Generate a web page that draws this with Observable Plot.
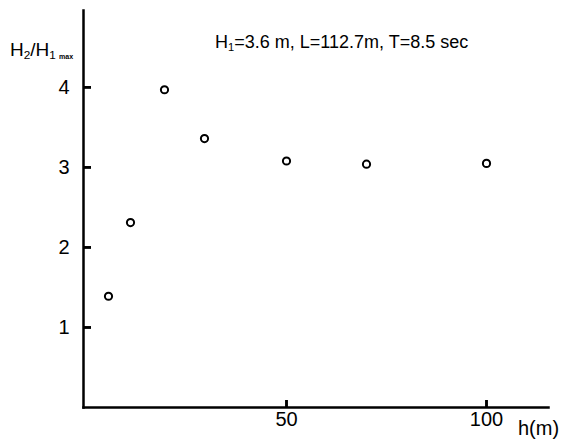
<!DOCTYPE html>
<html><head><meta charset="utf-8">
<script src="https://cdn.jsdelivr.net/npm/d3@7"></script>
<script src="https://cdn.jsdelivr.net/npm/@observablehq/plot@0.6"></script>
<style>
body{margin:0;background:#fff;}
#wrap{position:relative;width:565px;height:441px;font-family:"Liberation Sans",Arial,sans-serif;color:#000;background:#fff;}
#wrap svg{position:absolute;left:0;top:0;font-family:"Liberation Sans",Arial,sans-serif;background:transparent;}
.lbl{position:absolute;white-space:nowrap;line-height:1;}
.lbl sub{font-size:0.62em;vertical-align:-0.25em;}
.lbl .mx{font-size:0.6em;font-weight:bold;}
</style></head><body><div id="wrap"></div>
<script>
// data
const depth = [5.5, 11, 19.5, 29.5, 50, 70, 100];
const ratio = [1.39, 2.31, 3.97, 3.36, 3.08, 3.04, 3.05];
const xTicks = [50, 100];
const yTicks = [1, 2, 3, 4];
const xLabel = "h(m)";
const yLabelParts = ["H", "2", "/H", "1", "max"];
const noteParts = ["H", "1", "=3.6 m, L=112.7m, T=8.5 sec"];

const data = depth.map((h, i) => ({h, r: ratio[i]}));
const xDomain = [-0.75, 115.5];
const yDomain = [0, 4.96];
const W = 565, H = 441, mL = 83, mR = 17, mT = 10, mB = 34;
const yTickLen = 8 * (xDomain[1] - xDomain[0]) / (W - mL - mR);
const xTickLen = 7 * (yDomain[1] - yDomain[0]) / (H - mT - mB);
const base = {width: W, height: H, marginLeft: mL, marginRight: mR, marginTop: mT, marginBottom: mB};
const wrap = document.getElementById("wrap");

// layer 1: y axis line and inward y ticks
wrap.appendChild(Plot.plot({
  ...base,
  x: {domain: xDomain, axis: null},
  y: {domain: yDomain},
  marks: [
    Plot.frame({anchor: "left", strokeWidth: 2.5}),
    Plot.ruleY(yTicks, {y: d => d, x1: xDomain[0], x2: xDomain[0] + yTickLen, stroke: "#000", strokeWidth: 2.5}),
    Plot.axisY(yTicks, {tickSize: 8, dx: 8, strokeWidth: 2.5, tickFormat: () => "", label: null})
  ]
}));

// layer 2: x axis line and inward x ticks
wrap.appendChild(Plot.plot({
  ...base,
  x: {domain: xDomain},
  y: {domain: yDomain, axis: null},
  marks: [
    Plot.frame({anchor: "bottom", strokeWidth: 2.5}),
    Plot.ruleX(xTicks, {x: d => d, y1: yDomain[0], y2: yDomain[0] + xTickLen, stroke: "#000", strokeWidth: 2.5}),
    Plot.axisX(xTicks, {tickSize: 7, dy: -7, strokeWidth: 2.5, tickFormat: () => "", label: null})
  ]
}));

// layer 3: tick labels and data points
wrap.appendChild(Plot.plot({
  ...base,
  x: {domain: xDomain},
  y: {domain: yDomain},
  marks: [
    Plot.axisY(yTicks, {tickSize: 0, tickPadding: 14, fontSize: 20, tickFormat: d3.format("d"), label: null}),
    Plot.axisX(xTicks, {tickSize: 0, tickPadding: 4, fontSize: 20, tickFormat: d3.format("d"), label: null}),
    Plot.dot(data, {x: "h", y: "r", r: 3.6, stroke: "#000", strokeWidth: 2, fill: "#fff"})
  ]
}));

function addLabel(html, left, top, size) {
  const d = document.createElement("div");
  d.className = "lbl";
  d.style.left = left + "px";
  d.style.top = top + "px";
  d.style.fontSize = size + "px";
  d.innerHTML = html;
  wrap.appendChild(d);
  return d;
}
addLabel(`${yLabelParts[0]}<sub>${yLabelParts[1]}</sub>${yLabelParts[2]}<sub>${yLabelParts[3]} <span class="mx">${yLabelParts[4]}</span></sub>`, 10, 40, 19);
addLabel(`${noteParts[0]}<sub>${noteParts[1]}</sub>${noteParts[2]}`, 215, 33, 18);
addLabel(xLabel, 518, 418, 20);
</script></body></html>
